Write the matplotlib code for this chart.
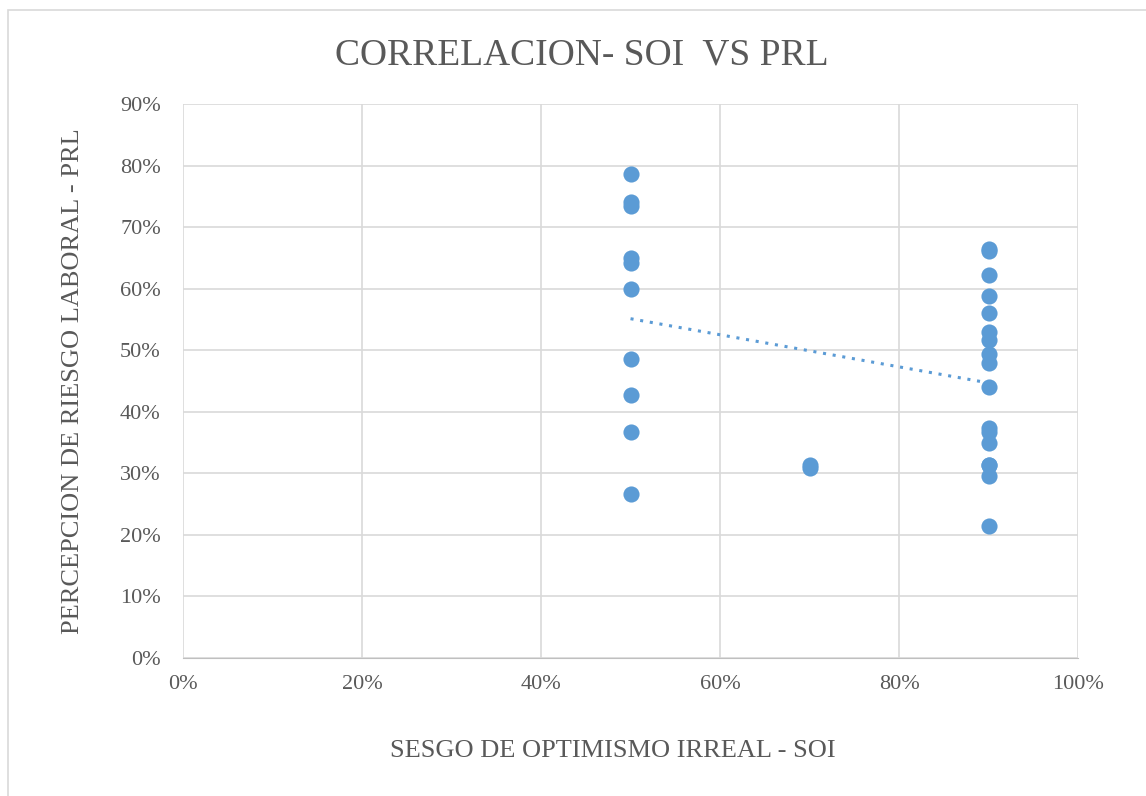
import numpy as np
import matplotlib.pyplot as plt
from matplotlib.patches import Rectangle
from matplotlib.ticker import PercentFormatter

# SOI (x) and PRL (y) values, in percent
soi_50 = [50] * 10
prl_50 = [78.7, 74.1, 73.4, 65.0, 64.2, 60.0, 48.5, 42.7, 36.7, 26.7]
soi_70 = [70] * 2
prl_70 = [31.4, 30.9]
soi_90 = [90] * 17
prl_90 = [66.5, 66.2, 62.2, 58.8, 56.1, 53.0, 51.7, 49.4, 48.0, 44.1,
          37.3, 36.7, 34.9, 31.4, 31.3, 29.5, 21.4]

x = np.array(soi_50 + soi_70 + soi_90, dtype=float)
y = np.array(prl_50 + prl_70 + prl_90, dtype=float)

plt.rcParams['font.family'] = ['Liberation Serif', 'DejaVu Serif']
text_color = "#595959"
blue = "#5B9BD5"

fig = plt.figure(figsize=(11.46, 7.96), dpi=100)
fig.patches.append(Rectangle((8 / 1146, -0.1), 1.2, 1.1 - 10 / 796,
                             transform=fig.transFigure, fill=False,
                             edgecolor="#d9d9d9", linewidth=1.2))
ax = fig.add_axes([0.1597, 0.1734, 0.781, 0.6959])

ax.scatter(x, y, s=135, color=blue, zorder=3, linewidths=0)

# linear trendline
slope, intercept = np.polyfit(x, y, 1)
xt = np.array([x.min(), x.max()])
ax.plot(xt, slope * xt + intercept, color=blue, linestyle=(0, (1, 2.2)),
        linewidth=2.2, zorder=2)

ax.set_xlim(0, 100)
ax.set_ylim(0, 90)
ax.set_xticks(np.arange(0, 101, 20))
ax.set_yticks(np.arange(0, 91, 10))
ax.xaxis.set_major_formatter(PercentFormatter(decimals=0))
ax.yaxis.set_major_formatter(PercentFormatter(decimals=0))
ax.grid(True, color="#d9d9d9", linewidth=1.2)
ax.set_axisbelow(True)
for side in ["top", "right", "left"]:
    ax.spines[side].set_visible(False)
ax.spines["bottom"].set_color("#bfbfbf")
ax.tick_params(length=0, labelsize=16, colors=text_color)
ax.tick_params(axis="x", pad=12)
ax.tick_params(axis="y", pad=16)

fig.text(582 / 1146, 1 - 55 / 796, "CORRELACION- SOI  VS PRL", fontsize=27,
         color=text_color, ha="center", va="center")
ax.set_xlabel("SESGO DE OPTIMISMO IRREAL - SOI", fontsize=19, color=text_color)
ax.xaxis.set_label_coords(0.4804, -0.148)
ax.set_ylabel("PERCEPCION DE RIESGO LABORAL - PRL", fontsize=19, color=text_color, labelpad=26)

fig.savefig("out.png", dpi=100)
